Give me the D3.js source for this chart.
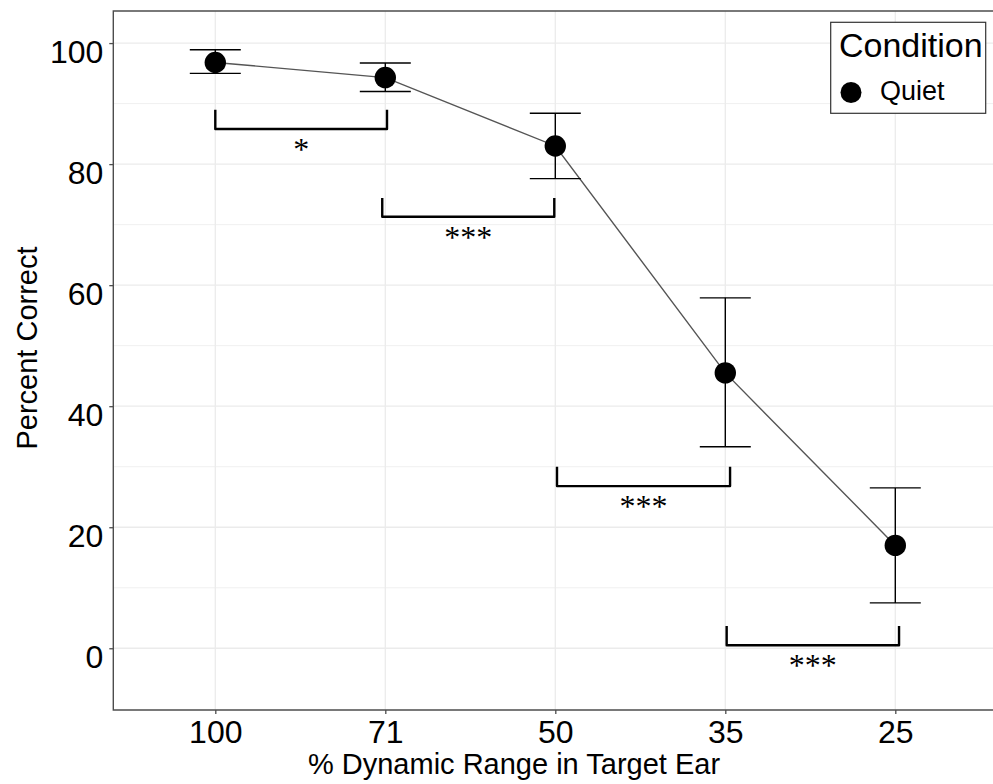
<!DOCTYPE html>
<html>
<head>
<meta charset="utf-8">
<script src="https://cdn.jsdelivr.net/npm/d3@7"></script>
<style>
  body { margin: 0; background: #fff; }
  svg { display: block; font-family: "Liberation Sans", Arial, sans-serif; }
</style>
</head>
<body>
<svg id="chart" width="993" height="784"></svg>
<script>
// chart data
var categories = ["100", "71", "50", "35", "25"];
var meanCorrect = [96.8, 94.3, 83.0, 45.5, 17.0];
var upperBar = [98.9, 96.7, 88.4, 57.9, 26.5];
var lowerBar = [95.0, 92.0, 77.6, 33.3, 7.5];
var yTicks = [0, 20, 40, 60, 80, 100];
var yMinor = [10, 30, 50, 70, 90];

// significance brackets (x in category index units, y in percent)
var bracketStart = [0.0, 0.982, 2.01, 3.008];
var bracketEnd = [1.01, 1.994, 3.028, 4.022];
var bracketTop = [89.0, 74.4, 30.0, 3.7];
var bracketBottom = [85.8, 71.3, 26.8, 0.5];
var bracketLabel = ["*", "***", "***", "***"];

var legendTitle = "Condition";
var legendLabel = "Quiet";

// panel geometry
var panel = { left: 113.3, top: 11, right: 997.3, bottom: 710 };

var svg = d3.select("#chart");

var x = d3.scaleLinear()
  .domain([-0.6, categories.length - 1 + 0.6])
  .range([panel.left, panel.right]);

var y = d3.scaleLinear()
  .domain([-10.2, 105.3])
  .range([panel.bottom, panel.top]);

var grid = svg.append("g");

// minor horizontal gridlines
grid.selectAll(".minor")
  .data(yMinor)
  .enter().append("line")
  .attr("x1", panel.left).attr("x2", panel.right)
  .attr("y1", function (d) { return y(d); })
  .attr("y2", function (d) { return y(d); })
  .attr("stroke", "#f0f0f0")
  .attr("stroke-width", 1);

// major gridlines
grid.selectAll(".hmajor")
  .data(yTicks)
  .enter().append("line")
  .attr("x1", panel.left).attr("x2", panel.right)
  .attr("y1", function (d) { return y(d); })
  .attr("y2", function (d) { return y(d); })
  .attr("stroke", "#ebebeb")
  .attr("stroke-width", 1.3);

grid.selectAll(".vmajor")
  .data(categories)
  .enter().append("line")
  .attr("x1", function (d, i) { return x(i); })
  .attr("x2", function (d, i) { return x(i); })
  .attr("y1", panel.top).attr("y2", panel.bottom)
  .attr("stroke", "#ebebeb")
  .attr("stroke-width", 1.3);

// panel border (top, left, bottom)
svg.append("path")
  .attr("d", "M" + panel.right + "," + panel.top + "H" + panel.left + "V" + panel.bottom + "H" + panel.right)
  .attr("fill", "none")
  .attr("stroke", "#4d4d4d")
  .attr("stroke-width", 1.4);

// y axis
var yAxis = d3.axisLeft(y)
  .tickValues(yTicks)
  .tickSize(4)
  .tickPadding(6);

var yg = svg.append("g")
  .attr("transform", "translate(" + panel.left + ",0)")
  .call(yAxis);
yg.select(".domain").remove();
yg.selectAll(".tick line").attr("stroke", "#4d4d4d").attr("stroke-width", 1.3);
yg.selectAll(".tick text")
  .attr("fill", "#000")
  .attr("font-size", 32)
  .attr("font-family", "Liberation Sans, Arial, sans-serif")
  .attr("dy", "0.6em");

// x axis
var xAxis = d3.axisBottom(x)
  .tickValues(d3.range(categories.length))
  .tickFormat(function (i) { return categories[i]; })
  .tickSize(4)
  .tickPadding(5);

var xg = svg.append("g")
  .attr("transform", "translate(0," + panel.bottom + ")")
  .call(xAxis);
xg.select(".domain").remove();
xg.selectAll(".tick line").attr("stroke", "#4d4d4d").attr("stroke-width", 1.3);
xg.selectAll(".tick text")
  .attr("fill", "#000")
  .attr("font-size", 32)
  .attr("font-family", "Liberation Sans, Arial, sans-serif")
  .attr("y", 33)
  .attr("dy", null);

// axis titles
svg.append("text")
  .attr("x", 514)
  .attr("y", 774)
  .attr("text-anchor", "middle")
  .attr("font-size", 29)
  .text("% Dynamic Range in Target Ear");

svg.append("text")
  .attr("transform", "translate(37,348) rotate(-90)")
  .attr("text-anchor", "middle")
  .attr("font-size", 29)
  .text("Percent Correct");

// connecting line
var line = d3.line()
  .x(function (d, i) { return x(i); })
  .y(function (d) { return y(d); });

svg.append("path")
  .datum(meanCorrect)
  .attr("d", line)
  .attr("fill", "none")
  .attr("stroke", "#555")
  .attr("stroke-width", 1.4);

// error bars
var capHalf = 0.15;
var bars = svg.append("g").selectAll("g")
  .data(categories)
  .enter().append("g")
  .attr("stroke", "#000")
  .attr("stroke-width", 1.4);

bars.append("line")
  .attr("x1", function (d, i) { return x(i); })
  .attr("x2", function (d, i) { return x(i); })
  .attr("y1", function (d, i) { return y(upperBar[i]); })
  .attr("y2", function (d, i) { return y(lowerBar[i]); });

bars.append("line")
  .attr("x1", function (d, i) { return x(i - capHalf); })
  .attr("x2", function (d, i) { return x(i + capHalf); })
  .attr("y1", function (d, i) { return y(upperBar[i]); })
  .attr("y2", function (d, i) { return y(upperBar[i]); });

bars.append("line")
  .attr("x1", function (d, i) { return x(i - capHalf); })
  .attr("x2", function (d, i) { return x(i + capHalf); })
  .attr("y1", function (d, i) { return y(lowerBar[i]); })
  .attr("y2", function (d, i) { return y(lowerBar[i]); });

// points
svg.append("g").selectAll("circle")
  .data(meanCorrect)
  .enter().append("circle")
  .attr("cx", function (d, i) { return x(i); })
  .attr("cy", function (d) { return y(d); })
  .attr("r", 10.7)
  .attr("fill", "#000");

// significance brackets
var br = svg.append("g").selectAll("g")
  .data(bracketLabel)
  .enter().append("g");

br.append("path")
  .attr("d", function (d, i) {
    return "M" + x(bracketStart[i]) + "," + y(bracketTop[i]) +
      "V" + y(bracketBottom[i]) +
      "H" + x(bracketEnd[i]) +
      "V" + y(bracketTop[i]);
  })
  .attr("fill", "none")
  .attr("stroke", "#000")
  .attr("stroke-width", 2.4)
  .attr("stroke-linejoin", "round");

br.append("text")
  .attr("x", function (d, i) { return x((bracketStart[i] + bracketEnd[i]) / 2); })
  .attr("y", function (d, i) { return y(bracketBottom[i]) + 31; })
  .attr("text-anchor", "middle")
  .attr("font-family", "Liberation Serif, Times New Roman, serif")
  .attr("font-size", 32)
  .text(function (d) { return d; });

// legend
var lg = svg.append("g");
lg.append("rect")
  .attr("x", 830.7).attr("y", 22.3)
  .attr("width", 155).attr("height", 91)
  .attr("fill", "#fff")
  .attr("stroke", "#333")
  .attr("stroke-width", 1.2);
lg.append("text")
  .attr("x", 839).attr("y", 57)
  .attr("font-size", 34)
  .text(legendTitle);
lg.append("circle")
  .attr("cx", 851).attr("cy", 92.5)
  .attr("r", 10.5)
  .attr("fill", "#000");
lg.append("text")
  .attr("x", 880).attr("y", 100)
  .attr("font-size", 27)
  .text(legendLabel);
</script>
</body>
</html>
